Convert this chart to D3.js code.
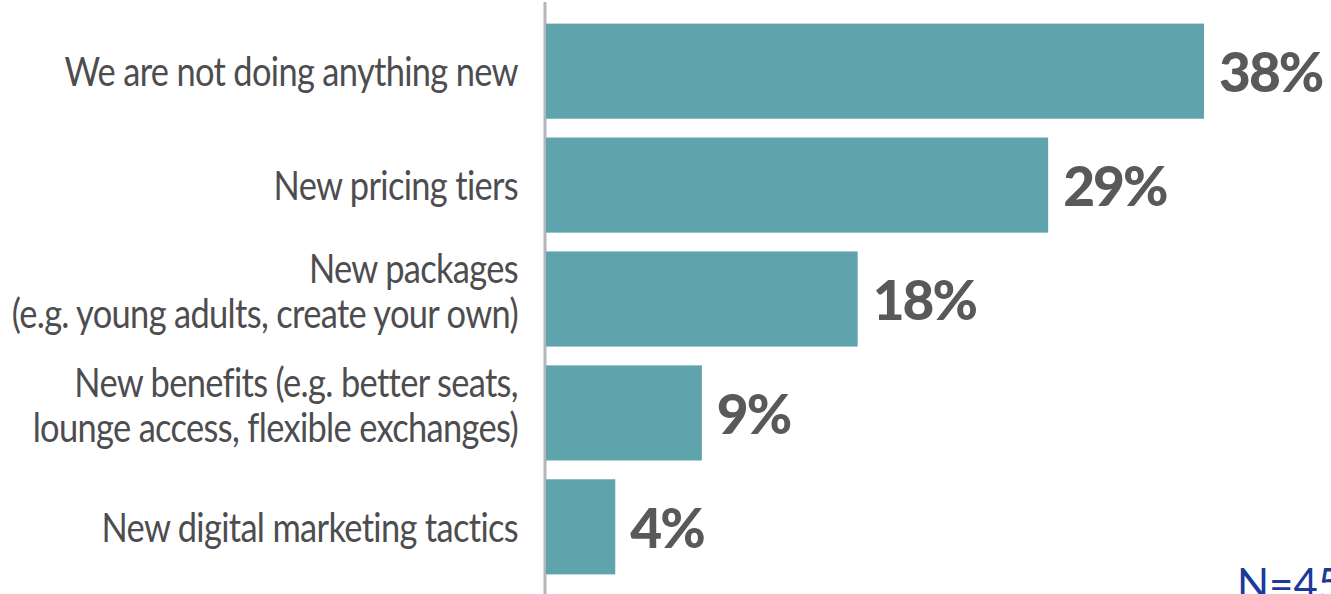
<!DOCTYPE html>
<html><head><meta charset="utf-8">
<script src="https://cdn.jsdelivr.net/npm/d3@7"></script>
<style>html,body{margin:0;padding:0;background:#fff;overflow:hidden}</style>
</head><body>
<svg id="c" width="1331" height="594"></svg>
<script>
const categories = [
  ["We are not doing anything new"],
  ["New pricing tiers"],
  ["New packages", "(e.g. young adults, create your own)"],
  ["New benefits (e.g. better seats,", "lounge access, flexible exchanges)"],
  ["New digital marketing tactics"]
];
const values = [38, 29, 18, 9, 4];
const valueLabels = ["38%", "29%", "18%", "9%", "4%"];
const note = "N=45";

const svg = d3.select("#c");
const x0 = 546;
const x = d3.scaleLinear().domain([0, 38]).range([x0, 1204]);
const y = d3.scaleBand().domain(d3.range(values.length)).range([14.5, 583.5]).paddingInner(0.165).paddingOuter(0.08);

svg.append("line").attr("x1", 545).attr("x2", 545).attr("y1", 2).attr("y2", 594)
  .attr("stroke", "#b3b6ba").attr("stroke-width", 3);

svg.selectAll("rect.bar").data(values).join("rect").attr("class","bar")
  .attr("x", x0).attr("y", (d,i)=>y(i)).attr("width", d=>x(d)-x0).attr("height", y.bandwidth())
  .attr("fill", "#5fa3ad");

svg.selectAll("text.val").data(values).join("text").attr("class","val")
  .attr("x", d=>x(d)+15).attr("y", (d,i)=>y(i)+y.bandwidth()/2 + 21)
  .attr("font-family", "Lato").attr("font-weight", 900).attr("font-size", 55)
  .attr("fill", "#58595b").attr("letter-spacing", "-2")
  .text((d,i)=>valueLabels[i]);

const sx = 0.84;
categories.forEach((lines, i) => {
  const cy = y(i) + y.bandwidth()/2;
  const offs = lines.length === 1 ? [15] : [-16, 29];
  const g = svg.append("g").attr("transform", `translate(518,0) scale(${sx},1)`);
  const t = g.append("text").attr("text-anchor", "end")
    .attr("font-family", "Lato").attr("font-size", 41).attr("fill", "#4d4d4f")
    .attr("letter-spacing", "-0.8");
  lines.forEach((l, k) => {
    t.append("tspan").attr("x", 0).attr("y", cy + offs[k]).text(l);
  });
});

svg.append("text").attr("x", 1237).attr("y", 599)
  .attr("font-family", "Lato").attr("font-size", 42).attr("fill", "#1a3a9c")
  .text(note);
</script>
</body></html>
